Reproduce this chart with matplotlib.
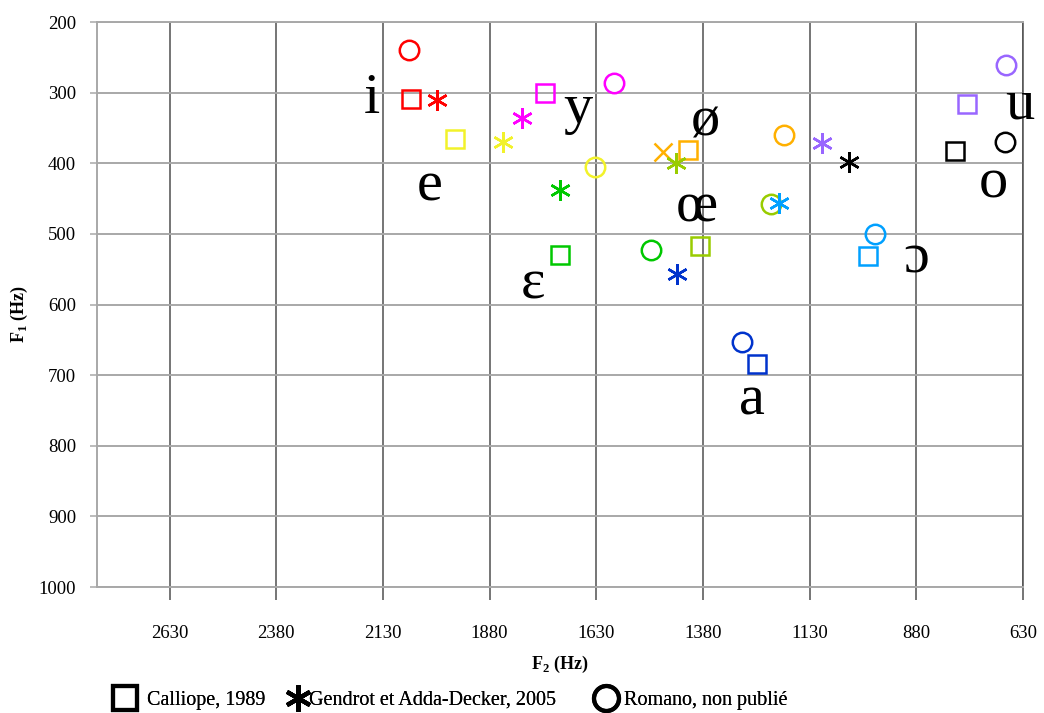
import matplotlib
matplotlib.use("Agg")
import matplotlib.pyplot as plt
from matplotlib.lines import Line2D

plt.rcParams["font.family"] = ["Liberation Serif", "DejaVu Serif"]
plt.rcParams["mathtext.fontset"] = "custom"
plt.rcParams["mathtext.rm"] = "Liberation Serif"
plt.rcParams["mathtext.bf"] = "Liberation Serif:bold"

# vowel data (F2, F1 in Hz)
vowels = ["i", "e", "ɛ", "y", "ø", "œ", "a", "ɔ", "o", "u"]
colors = ["#ff0000", "#f2f22a", "#00c800", "#ff00ff", "#ffb000",
          "#99cc00", "#0033cc", "#00a0ff", "#000000", "#9966ff"]

calliope_f2 = [2065, 1960, 1716, 1749, 1416, 1387, 1254, 993, 789, 761]
calliope_f1 = [309, 366, 530, 300, 381, 517, 684, 531, 383, 316]
gendrot_f2 = [2004, 1849, 1716, 1803, 1474, 1444, 1441, 1202, 1038, 1101]
gendrot_f1 = [310, 370, 438, 336, 384, 400, 557, 456, 398, 371]
romano_f2 = [2070, 1634, 1502, 1589, 1190, 1221, 1289, 977, 672, 670]
romano_f1 = [240, 405, 523, 286, 360, 458, 653, 500, 370, 261]

# where the vowel symbols sit (baseline, in data coords)
label_f2 = [2157, 2021, 1779, 1674, 1373, 1394, 1265, 881, 700, 637]
label_f1 = [329, 452, 591, 343, 360, 483, 756, 555, 448, 336]

x_ticks = [2630, 2380, 2130, 1880, 1630, 1380, 1130, 880, 630]
y_ticks = [200, 300, 400, 500, 600, 700, 800, 900, 1000]

star = (6, 2, 0)

fig = plt.figure(figsize=(10.44, 7.13), dpi=100)
ax = fig.add_axes([0.0929, 0.1767, 0.8870, 0.7924])

for i, v in enumerate(vowels):
    c = colors[i]
    ax.plot(calliope_f2[i], calliope_f1[i], marker="s", ms=13, mfc="none",
            mec=c, mew=1.8, ls="none", zorder=3)
    gmark = "x" if v == "ø" else star
    ax.plot(gendrot_f2[i], gendrot_f1[i], marker=gmark, ms=15 if v != "ø" else 13,
            mec=c, mew=1.8, ls="none", zorder=3)
    ax.plot(romano_f2[i], romano_f1[i], marker="o", ms=14, mfc="none",
            mec=c, mew=1.8, ls="none", zorder=3)
    ax.text(label_f2[i], label_f1[i], v, fontsize=42, ha="center",
            va="baseline", color="black", zorder=4)

ax.set_xlim(2800, 630)
ax.set_ylim(1000, 200)
ax.set_xticks(x_ticks)
ax.set_yticks(y_ticks)
ax.tick_params(axis="x", direction="out", length=9.5, width=1.1,
               color="#505050", pad=18, labelsize=13.5)
ax.tick_params(axis="y", direction="out", length=5, width=1.1,
               color="#a8a8a8", pad=10, labelsize=13.5)

ax.grid(axis="x", color="#505050", lw=1.1, zorder=0)
ax.grid(axis="y", color="#a8a8a8", lw=1.4, zorder=0)
ax.set_axisbelow(True)

for s in ["top", "bottom", "left"]:
    ax.spines[s].set_color("#a8a8a8")
    ax.spines[s].set_linewidth(1.4)
ax.spines["right"].set_color("#505050")
ax.spines["right"].set_linewidth(1.1)

fig.text(560 / 1044, 1 - 664 / 713, r"F$_{\mathbf{2}}$ (Hz)", fontsize=13,
         fontweight="bold", ha="center", va="center")
fig.text(19 / 1044, 1 - 314 / 713, r"F$_{\mathbf{1}}$ (Hz)", fontsize=13,
         fontweight="bold", ha="center", va="center", rotation=90)

# legend: one entry each, placed like the original
handles = [
    Line2D([], [], marker="s", ms=17, mfc="none", mec="black", mew=3, ls="none"),
    Line2D([], [], marker=star, ms=19, mec="black", mew=3, ls="none"),
    Line2D([], [], marker="o", ms=18, mfc="none", mec="black", mew=3, ls="none"),
]
labels = ["Calliope, 1989", "Gendrot et Adda-Decker, 2005", "Romano, non publié"]
leg_left = [114.5, 287.5, 595.5]
leg_pad = [0.6, 0.08, 0.4]
for h, lab, lx, tp in zip(handles, labels, leg_left, leg_pad):
    lg = fig.legend([h], [lab], loc="center left",
                    bbox_to_anchor=(lx / 1044, 1 - 700 / 713),
                    frameon=False, fontsize=14.5, handlelength=1.0,
                    handletextpad=tp, borderpad=0, borderaxespad=0)
    fig.add_artist(lg)

fig.savefig("out.png", dpi=100)
